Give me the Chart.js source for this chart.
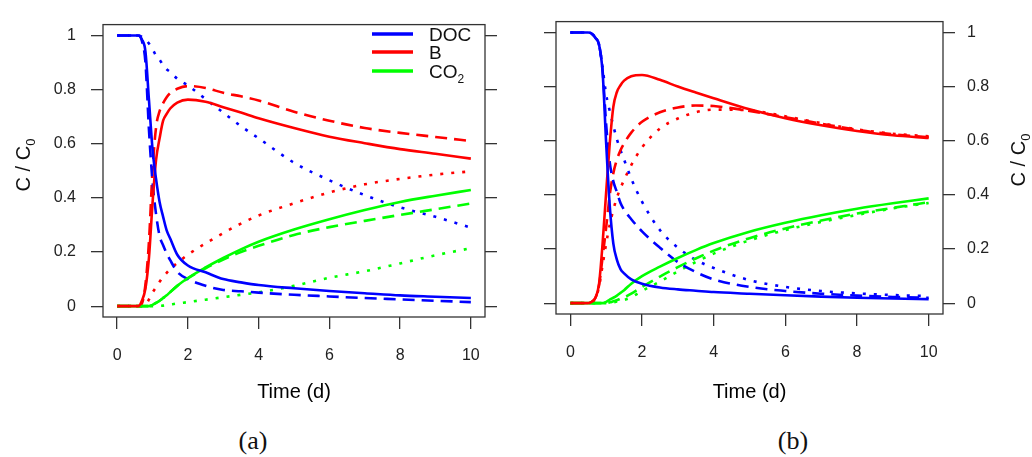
<!DOCTYPE html>
<html>
<head>
<meta charset="utf-8">
<script src="https://cdn.jsdelivr.net/npm/chart.js@4.4.0/dist/chart.umd.min.js"></script>
<style>
  html, body { margin: 0; padding: 0; background: #fff; }
  #wrap { position: relative; width: 1032px; height: 457px; overflow: hidden; background: #fff; }
  canvas { position: absolute; top: 0; }
  #chartA { left: 0; }
  #chartB { left: 516px; }
  .caption {
    position: absolute; top: 424px; width: 80px; margin-left: -40px;
    text-align: center; font-family: 'Liberation Serif', 'DejaVu Serif', serif;
    font-size: 26px; line-height: 34px; color: #111;
  }
</style>
</head>
<body>
<div id="wrap">
  <canvas id="chartA" width="516" height="410"></canvas>
  <canvas id="chartB" width="516" height="410"></canvas>
  <div class="caption" style="left:253px">(a)</div>
  <div class="caption" style="left:793px">(b)</div>
</div>
<script>
// ---------------------------
// Data
// ---------------------------
const time = [0, 0.5, 0.6, 0.7, 0.8, 0.9, 1.0, 1.1, 1.2, 1.3, 1.4, 1.5, 1.7, 2.0, 2.5, 3.0, 3.5, 4, 5, 6, 7, 8, 9, 10];

// panel (a)
const docSolidA  = [1, 1, 1, 0.985, 0.94, 0.76, 0.58, 0.47, 0.385, 0.33, 0.28, 0.25, 0.19, 0.15, 0.125, 0.1, 0.088, 0.078, 0.066, 0.056, 0.048, 0.04, 0.035, 0.03];
const docDashA   = [1, 1, 1, 0.98, 0.9, 0.65, 0.46, 0.34, 0.26, 0.225, 0.195, 0.17, 0.127, 0.1, 0.075, 0.06, 0.055, 0.05, 0.042, 0.036, 0.03, 0.025, 0.02, 0.015];
const docDotA    = [1, 1, 1, 0.995, 0.985, 0.97, 0.95, 0.925, 0.91, 0.89, 0.875, 0.865, 0.84, 0.815, 0.765, 0.715, 0.665, 0.62, 0.53, 0.465, 0.41, 0.365, 0.33, 0.29];
const bSolidA    = [0, 0, 0, 0.02, 0.065, 0.18, 0.38, 0.54, 0.62, 0.685, 0.71, 0.73, 0.752, 0.763, 0.755, 0.735, 0.715, 0.694, 0.658, 0.626, 0.602, 0.58, 0.563, 0.545];
const bDashA     = [0, 0, 0, 0.01, 0.08, 0.24, 0.5, 0.66, 0.72, 0.75, 0.772, 0.787, 0.803, 0.813, 0.806, 0.788, 0.775, 0.76, 0.718, 0.685, 0.658, 0.64, 0.625, 0.61];
const bDotA      = [0, 0, 0, 0, 0.005, 0.025, 0.05, 0.07, 0.09, 0.108, 0.123, 0.137, 0.16, 0.19, 0.232, 0.27, 0.305, 0.335, 0.38, 0.42, 0.45, 0.47, 0.486, 0.498];
const co2SolidA  = [0, 0, 0, 0, 0, 0, 0.005, 0.012, 0.02, 0.03, 0.04, 0.052, 0.075, 0.104, 0.143, 0.178, 0.21, 0.238, 0.283, 0.321, 0.355, 0.385, 0.408, 0.429];
const co2DashA   = [0, 0, 0, 0, 0, 0, 0.005, 0.012, 0.02, 0.03, 0.04, 0.052, 0.075, 0.103, 0.14, 0.172, 0.2, 0.223, 0.263, 0.292, 0.315, 0.337, 0.358, 0.379];
const co2DotA    = [0, 0, 0, 0, 0, 0, 0, 0, 0.001, 0.002, 0.004, 0.006, 0.01, 0.015, 0.024, 0.033, 0.042, 0.051, 0.075, 0.105, 0.129, 0.158, 0.188, 0.214];

// panel (b)
const docSolidB  = [1, 1, 0.995, 0.98, 0.955, 0.854, 0.59, 0.36, 0.22, 0.16, 0.126, 0.11, 0.088, 0.072, 0.058, 0.051, 0.046, 0.041, 0.035, 0.029, 0.024, 0.02, 0.017, 0.015];
const docDashB   = [1, 1, 0.995, 0.98, 0.955, 0.86, 0.66, 0.52, 0.45, 0.41, 0.37, 0.345, 0.31, 0.265, 0.205, 0.152, 0.115, 0.088, 0.06, 0.045, 0.035, 0.028, 0.023, 0.02];
const docDotB    = [1, 1, 0.995, 0.98, 0.955, 0.87, 0.77, 0.71, 0.655, 0.605, 0.565, 0.53, 0.46, 0.375, 0.27, 0.205, 0.16, 0.13, 0.085, 0.06, 0.045, 0.036, 0.03, 0.026];
const bSolidB    = [0, 0, 0.005, 0.02, 0.07, 0.22, 0.41, 0.59, 0.725, 0.78, 0.805, 0.822, 0.838, 0.843, 0.825, 0.8, 0.778, 0.757, 0.716, 0.683, 0.657, 0.636, 0.62, 0.61];
const bDashB     = [0, 0, 0.005, 0.02, 0.065, 0.17, 0.28, 0.4, 0.48, 0.53, 0.565, 0.59, 0.63, 0.67, 0.705, 0.723, 0.73, 0.728, 0.71, 0.687, 0.663, 0.64, 0.624, 0.613];
const bDotB      = [0, 0, 0.005, 0.018, 0.06, 0.14, 0.22, 0.29, 0.345, 0.39, 0.425, 0.455, 0.51, 0.575, 0.645, 0.682, 0.705, 0.715, 0.712, 0.69, 0.665, 0.642, 0.626, 0.616];
const co2SolidB  = [0, 0, 0, 0, 0, 0, 0.005, 0.013, 0.02, 0.028, 0.038, 0.048, 0.072, 0.1, 0.135, 0.167, 0.196, 0.222, 0.264, 0.297, 0.325, 0.349, 0.369, 0.387];
const co2DashB   = [0, 0, 0, 0, 0, 0, 0, 0.003, 0.007, 0.011, 0.016, 0.021, 0.035, 0.06, 0.098, 0.133, 0.165, 0.194, 0.24, 0.276, 0.305, 0.331, 0.352, 0.373];
const co2DotB    = [0, 0, 0, 0, 0, 0, 0, 0, 0.003, 0.006, 0.009, 0.012, 0.022, 0.045, 0.08, 0.117, 0.152, 0.183, 0.232, 0.27, 0.3, 0.326, 0.35, 0.37];

const xTicks = [0, 2, 4, 6, 8, 10];
const xTickLabels = ['0', '2', '4', '6', '8', '10'];
const yTicks = [0, 0.2, 0.4, 0.6, 0.8, 1];
const yTickLabels = ['0', '0.2', '0.4', '0.6', '0.8', '1'];
const legendNames = ['DOC', 'B', 'CO2'];

// ---------------------------
// Styles
// ---------------------------
const FONT = "'Liberation Sans', Arial, sans-serif";
const BLUE = '#0000ff', RED = '#ff0000', GREEN = '#00ff00';
const dashes = { solid: [], dashed: [12, 7], dotted: [3, 8] };

function line(values, color, style) {
    return {
        data: time.map((t, i) => ({ x: t, y: values[i] })),
        borderColor: color,
        borderWidth: 2.6,
        borderDash: dashes[style],
        borderCapStyle: 'butt',
        pointRadius: 0,
        cubicInterpolationMode: 'monotone',
        fill: false
    };
}

const tickGrid = { drawOnChartArea: false, drawTicks: true, tickLength: 12, color: '#333', lineWidth: 1.3 };

function xAxis(height) {
    return {
        type: 'linear', position: 'bottom', min: -0.4, max: 10.4,
        afterBuildTicks: s => { s.ticks = xTicks.map(v => ({ value: v })); },
        afterFit: s => { s.height = height; },
        grid: tickGrid,
        border: { display: false },
        ticks: {
            padding: 17, color: '#222', maxRotation: 0, autoSkip: false,
            font: { family: FONT, size: 16 },
            callback: (v, i) => xTickLabels[i]
        },
        title: {
            display: true, text: 'Time (d)', color: '#000',
            font: { family: FONT, size: 20 },
            padding: { top: 0, bottom: 6 }
        }
    };
}

function yAxis(position, labels, width) {
    return {
        type: 'linear', position: position, min: -0.04, max: 1.04,
        afterBuildTicks: s => { s.ticks = yTicks.map(v => ({ value: v })); },
        afterFit: s => { s.width = width; },
        grid: tickGrid,
        border: { display: false },
        ticks: {
            display: labels, padding: position === 'left' ? 15 : 12,
            color: '#222', autoSkip: false,
            font: { family: FONT, size: 16 },
            callback: (v, i) => yTickLabels[i]
        }
    };
}

// ---------------------------
// Plugins: frame, rotated y label, legend
// ---------------------------
const framePlugin = {
    id: 'frame',
    afterDraw(chart) {
        const { ctx, chartArea: a } = chart;
        ctx.save();
        ctx.strokeStyle = '#333';
        ctx.lineWidth = 1.3;
        ctx.strokeRect(a.left, a.top, a.right - a.left, a.bottom - a.top);
        ctx.restore();
    }
};

// text with a trailing digit drawn as a subscript (C0, CO2)
function drawSubText(ctx, main, sub, x, y, size, align) {
    ctx.font = `${size}px ${FONT}`;
    const w1 = ctx.measureText(main).width;
    ctx.font = `${Math.round(size * 0.65)}px ${FONT}`;
    const w2 = ctx.measureText(sub).width;
    const x0 = align === 'center' ? x - (w1 + w2) / 2 : x;
    ctx.textAlign = 'left';
    ctx.textBaseline = 'alphabetic';
    ctx.font = `${size}px ${FONT}`;
    ctx.fillText(main, x0, y);
    ctx.font = `${Math.round(size * 0.65)}px ${FONT}`;
    ctx.fillText(sub, x0 + w1, y + size * 0.27);
}

const yLabelPlugin = {
    id: 'yLabel',
    afterDraw(chart, args, opts) {
        const ctx = chart.ctx;
        ctx.save();
        ctx.translate(opts.x, opts.y);
        ctx.rotate(-Math.PI / 2);
        ctx.fillStyle = '#111';
        drawSubText(ctx, 'C / C', '0', 0, 7, 20, 'center');
        ctx.restore();
    }
};

const legendPlugin = {
    id: 'cornerLegend',
    afterDraw(chart, args, opts) {
        if (!opts.show) return;
        const ctx = chart.ctx;
        const colors = [BLUE, RED, GREEN];
        const rows = [34, 52, 71];
        ctx.save();
        legendNames.forEach((name, i) => {
            ctx.strokeStyle = colors[i];
            ctx.lineWidth = 3.5;
            ctx.beginPath();
            ctx.moveTo(372, rows[i]);
            ctx.lineTo(413, rows[i]);
            ctx.stroke();
            ctx.fillStyle = '#111';
            const m = name.match(/^(.*?)(\d*)$/);
            drawSubText(ctx, m[1], m[2], 429, rows[i] + 7, 19, 'left');
        });
        ctx.restore();
    }
};

// ---------------------------
// Build the two panels
// ---------------------------
function panel(id, sets, padTop, xHeight, leftW, rightW, leftLabels, yLabelPos, legend) {
    return new Chart(document.getElementById(id), {
        type: 'line',
        data: {
            datasets: [
                line(sets[0], BLUE, 'solid'), line(sets[1], RED, 'solid'), line(sets[2], GREEN, 'solid'),
                line(sets[3], BLUE, 'dashed'), line(sets[4], RED, 'dashed'), line(sets[5], GREEN, 'dashed'),
                line(sets[6], BLUE, 'dotted'), line(sets[7], RED, 'dotted'), line(sets[8], GREEN, 'dotted')
            ]
        },
        options: {
            responsive: false,
            animation: false,
            devicePixelRatio: 1,
            layout: { padding: { top: padTop, left: 0, right: 0, bottom: 0 } },
            scales: {
                x: xAxis(xHeight),
                y: yAxis('left', leftLabels, leftW),
                yr: yAxis('right', !leftLabels, rightW)
            },
            plugins: {
                legend: { display: false },
                tooltip: { enabled: false },
                yLabel: yLabelPos,
                cornerLegend: { show: legend }
            }
        },
        plugins: [framePlugin, yLabelPlugin, legendPlugin]
    });
}

panel('chartA',
    [docSolidA, bSolidA, co2SolidA, docDashA, bDashA, co2DashA, docDotA, bDotA, co2DotA],
    15, 93, 103, 31, true, { x: 23, y: 165 }, true);

panel('chartB',
    [docSolidB, bSolidB, co2SolidB, docDashB, bDashB, co2DashB, docDotB, bDotB, co2DotB],
    7, 96, 40, 89, false, { x: 502, y: 160 }, false);
</script>
</body>
</html>
